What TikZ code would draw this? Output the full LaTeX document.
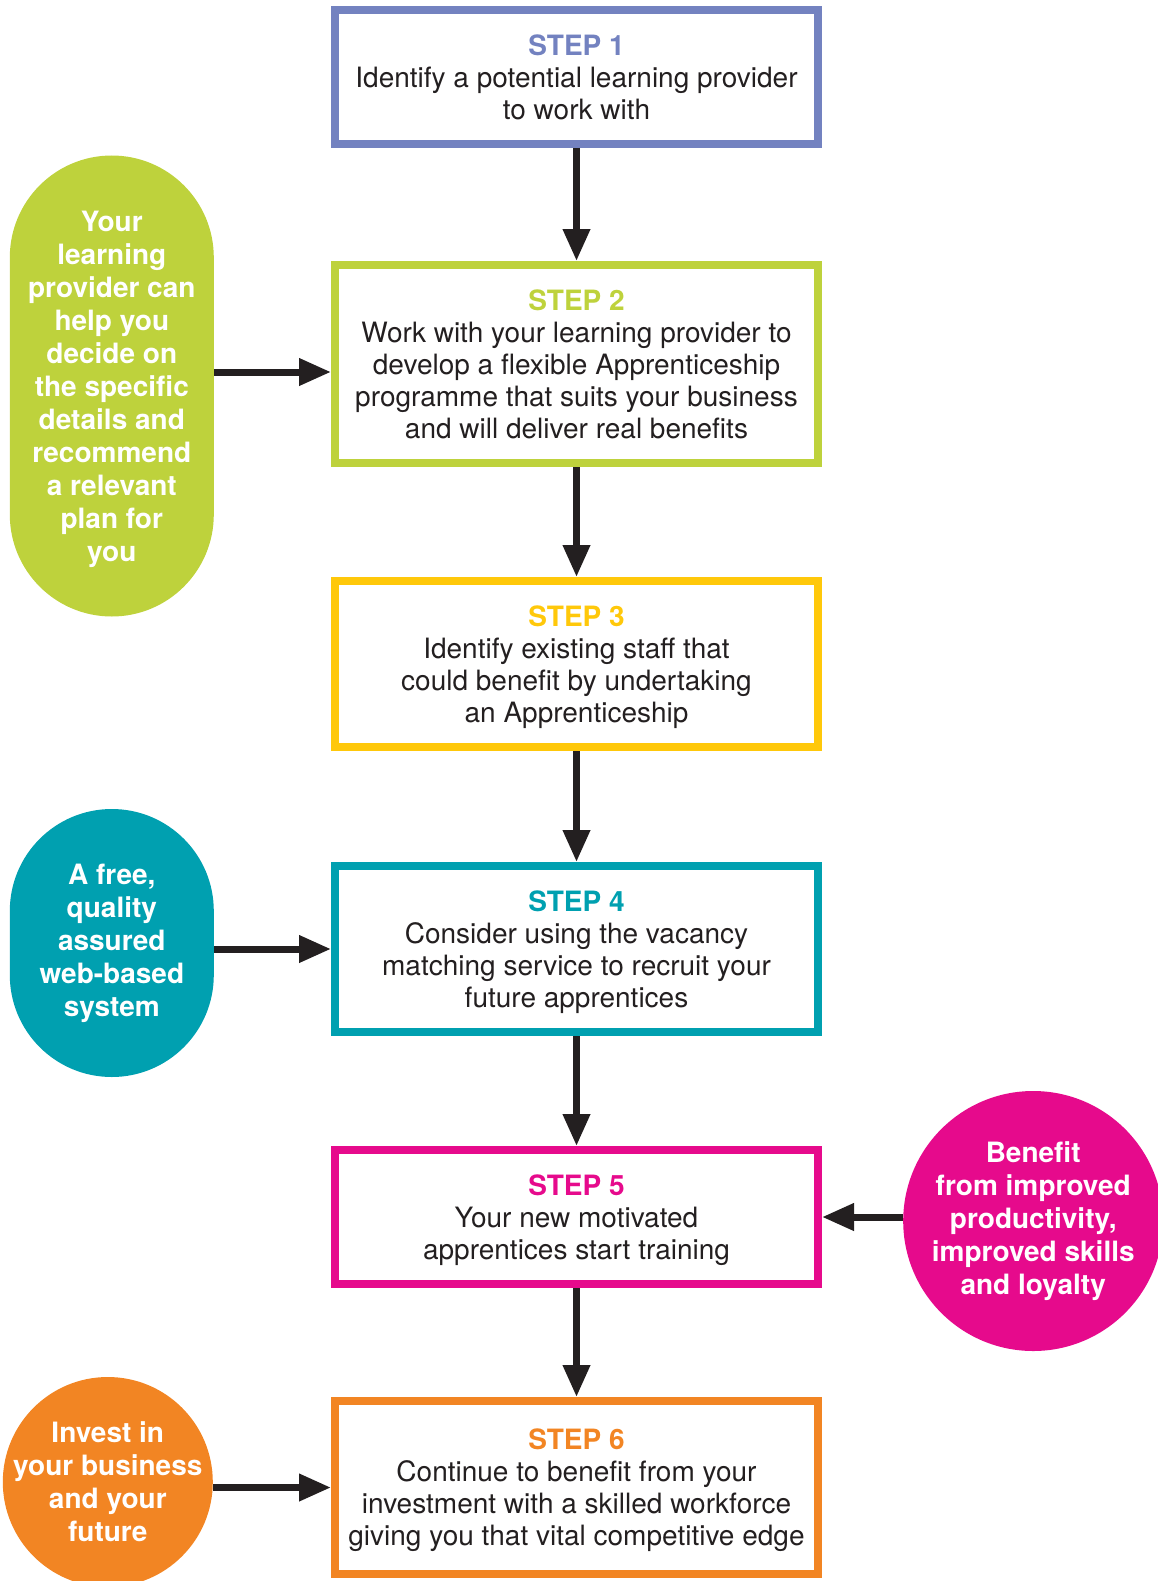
\documentclass[tikz,border=0pt]{standalone}
\usepackage{fontspec}
\setmainfont{TeX Gyre Heros}
\usepackage{xcolor}
\usetikzlibrary{shapes,arrows.meta,positioning,calc}

\definecolor{ink}{RGB}{35,31,32}
\definecolor{sone}{RGB}{115,130,192}
\definecolor{stwo}{RGB}{190,210,60}
\definecolor{sthree}{RGB}{255,200,10}
\definecolor{sfour}{RGB}{0,160,176}
\definecolor{sfive}{RGB}{230,10,140}
\definecolor{ssix}{RGB}{242,133,35}

\begin{document}
\begin{tikzpicture}[
    x=1pt, y=1pt,
    node distance=111pt,
    stepbox/.style={rectangle, draw, line width=8pt, minimum width=483pt, align=center, text depth=0pt, text=ink, font=\fontsize{28}{32}\selectfont},
    side/.style={rectangle, rounded corners=102pt, minimum width=204pt, align=center, text=white, font=\fontsize{28}{33}\selectfont\bfseries},
    blob/.style={circle, inner sep=-25pt, align=center, text=white, font=\fontsize{28}{33}\selectfont\bfseries},
    arrow/.style={-{Triangle[length=32pt,width=26pt]}, line width=7pt, draw=ink},
]
    \useasboundingbox (0,0) rectangle (1157,-1581);

    \node[stepbox, draw=sone, minimum height=134pt] (s1) at (576.5,-77) {\textcolor{sone}{\bfseries STEP 1}\\ Identify a potential learning provider\\ to work with};
    \node[stepbox, draw=stwo, minimum height=198pt, below=113pt of s1] (s2) {\textcolor{stwo}{\bfseries STEP 2}\\ Work with your learning provider to\\ develop a flexible Apprenticeship\\ programme that suits your business\\ and will deliver real benefits};
    \node[stepbox, draw=sthree, minimum height=166pt, below=110pt of s2] (s3) {\textcolor{sthree}{\bfseries STEP 3}\\ Identify existing staff that\\ could benefit by undertaking\\ an Apprenticeship};
    \node[stepbox, draw=sfour, minimum height=166pt, below=of s3] (s4) {\textcolor{sfour}{\bfseries STEP 4}\\ Consider using the vacancy\\ matching service to recruit your\\ future apprentices};
    \node[stepbox, draw=sfive, minimum height=134pt, below=110pt of s4] (s5) {\textcolor{sfive}{\bfseries STEP 5}\\ Your new motivated\\ apprentices start training};
    \node[stepbox, draw=ssix, minimum height=173pt, below=109pt of s5] (s6) {\textcolor{ssix}{\bfseries STEP 6}\\ Continue to benefit from your\\ investment with a skilled workforce\\ giving you that vital competitive edge};

    \node[side, fill=stwo, minimum height=461pt, text depth=0pt, left=117pt of s2, yshift=-22pt] (help) {Your\\ learning\\ provider can\\ help you\\ decide on\\ the specific\\ details and\\ recommend\\ a relevant\\ plan for\\ you};
    \node[side, fill=sfour, minimum height=268pt, left=117pt of s4, yshift=6pt] (web) {A free,\\ quality\\ assured\\ web-based\\ system};
    \node[blob, fill=sfive, minimum size=260pt, right=81pt of s5, yshift=-4pt] (gain) {Benefit\\ from improved\\ productivity,\\ improved skills\\ and loyalty};
    \node[blob, fill=ssix, minimum size=210pt, left=118pt of s6, yshift=5.5pt] (invest) {Invest in\\ your business\\ and your\\ future};

    \draw[arrow] (s1) -- (s2);
    \draw[arrow] (s2) -- (s3);
    \draw[arrow] (s3) -- (s4);
    \draw[arrow] (s4) -- (s5);
    \draw[arrow] (s5) -- (s6);
    \coordinate (a2) at ([yshift=-8pt]s2.west);
    \draw[arrow] (help.east |- a2) -- (a2);
    \draw[arrow] (web.east |- s4.west) -- (s4.west);
    \draw[arrow] (gain.west |- s5.east) -- (s5.east);
    \draw[arrow] (invest.east |- s6.west) -- (s6.west);
\end{tikzpicture}
\end{document}
